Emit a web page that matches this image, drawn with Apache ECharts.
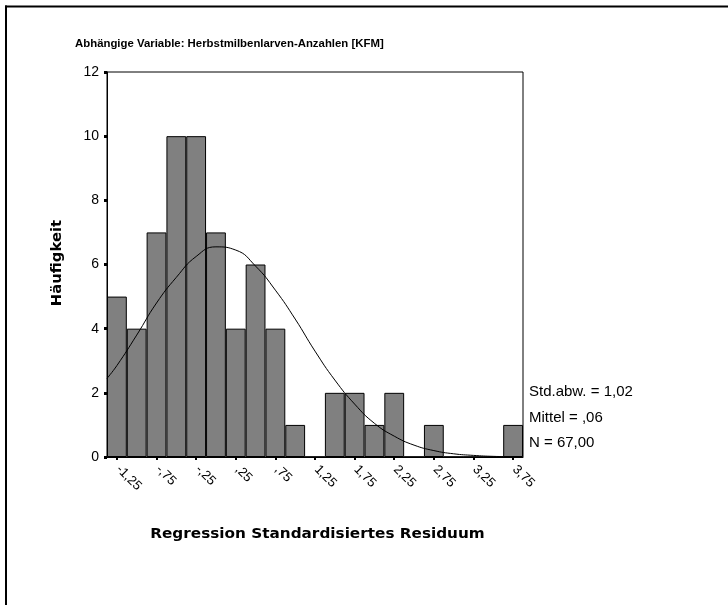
<!DOCTYPE html>
<html>
<head>
<meta charset="utf-8">
<script src="https://cdn.jsdelivr.net/npm/echarts@6/dist/echarts.min.js"></script>
<style>
html,body{margin:0;padding:0;background:#fff;}
#chart{width:728px;height:605px;}
</style>
</head>
<body>
<div id="chart"></div>
<script>
// Histogram bins (centres, width 0.25) as category labels, SPSS German style
const categories = ['-1,25','-1,00','-,75','-,50','-,25','0,00',',25',',50',',75','1,00','1,25','1,50','1,75','2,00','2,25','2,50','2,75','3,00','3,25','3,50','3,75'];
const counts = [5,4,7,10,10,7,4,6,4,1,0,2,2,1,2,0,1,0,0,0,1];
// Normal curve
const curveX = [-1.375,-1.25,-1.0,-0.75,-0.5,-0.25,0,0.25,0.5,0.75,1.0,1.25,1.5,1.75,2.0,2.25,2.5,2.75,3.0,3.25,3.5,3.75,3.875];
const curveY = [2.45,2.85,3.8,4.8,5.6,6.25,6.55,6.45,5.95,5.2,4.3,3.3,2.4,1.65,1.05,0.65,0.37,0.2,0.1,0.05,0.02,0.01,0.0];
const yTicks = [0,2,4,6,8,10,12];
const statsLines = ['Std.abw. = 1,02','Mittel = ,06','N = 67,00'];
const titleText = 'Abhängige Variable: Herbstmilbenlarven-Anzahlen [KFM]';
const xName = 'Regression Standardisiertes Residuum';
const yName = 'Häufigkeit';

const FONT = '"Liberation Sans", Arial, sans-serif';
const WIDE = '"DejaVu Sans", "Liberation Sans", sans-serif';
const chart = echarts.init(document.getElementById('chart'), null, {renderer:'canvas'});

const option = {
  backgroundColor: '#fff',
  animation: false,
  grid: {
    left: 107, right: 205, top: 72, bottom: 148,
    show: true, borderColor: '#000', borderWidth: 1, backgroundColor: 'transparent'
  },
  xAxis: [{
    type: 'category',
    data: categories,
    boundaryGap: true,
    axisLine: {lineStyle: {color: '#000', width: 1}},
    axisTick: {show: true, alignWithLabel: true, interval: 1, length: 3, lineStyle: {color: '#000', width: 2}},
    axisLabel: {interval: 1, rotate: -45, margin: 9, padding: [0, 0, 0, 2], fontFamily: FONT, fontSize: 13, color: '#000'},
    splitLine: {show: false}
  }, {
    type: 'value',
    min: -1.375, max: 3.875,
    show: false,
    axisLine: {show: false},
    axisTick: {show: false},
    splitLine: {show: false}
  }],
  yAxis: {
    type: 'value',
    min: yTicks[0], max: yTicks[yTicks.length-1], interval: 2,
    axisLine: {show: true, onZero: false, lineStyle: {color: '#000', width: 1}},
    axisTick: {show: true, length: 3, lineStyle: {color: '#000', width: 3}},
    axisLabel: {margin: 8, fontFamily: FONT, fontSize: 14, color: '#000'},
    splitLine: {show: false}
  },
  series: [{
    type: 'bar',
    data: counts,
    xAxisIndex: 0,
    barCategoryGap: '0%',
    itemStyle: {color: '#808080', borderColor: '#000', borderWidth: 1}
  }, {
    type: 'line',
    xAxisIndex: 1,
    data: curveX.map((x, i) => [x, curveY[i]]),
    smooth: true,
    symbol: 'none',
    lineStyle: {color: '#000', width: 1},
    z: 5
  }],
  graphic: [
    {type: 'line', shape: {x1: 5, y1: 6.5, x2: 728, y2: 6.5}, style: {stroke: '#000', lineWidth: 2}},
    {type: 'line', shape: {x1: 6, y1: 5.5, x2: 6, y2: 605}, style: {stroke: '#000', lineWidth: 2}},
    {type: 'text', x: 75, y: 44, scaleX: 1.035,
      style: {text: titleText, fontFamily: FONT, fontSize: 11, fontWeight: 'bold', fill: '#000', align: 'left', verticalAlign: 'middle'}},
    {type: 'text', x: 317.5, y: 534, scaleX: 1.09,
      style: {text: xName, fontFamily: WIDE, fontSize: 14, fontWeight: 'bold', fill: '#000', align: 'center', verticalAlign: 'middle'}},
    {type: 'text', x: 57.5, y: 263, rotation: Math.PI / 2, scaleX: 1.06,
      style: {text: yName, fontFamily: WIDE, fontSize: 14, fontWeight: 'bold', fill: '#000', align: 'center', verticalAlign: 'middle'}}
  ].concat(statsLines.map((t, i) => ({
    type: 'text', x: 529, y: 392 + i * 25.5,
    style: {text: t, fontFamily: FONT, fontSize: 15, fill: '#000', align: 'left', verticalAlign: 'middle'}
  })))
};
chart.setOption(option);
</script>
</body>
</html>
